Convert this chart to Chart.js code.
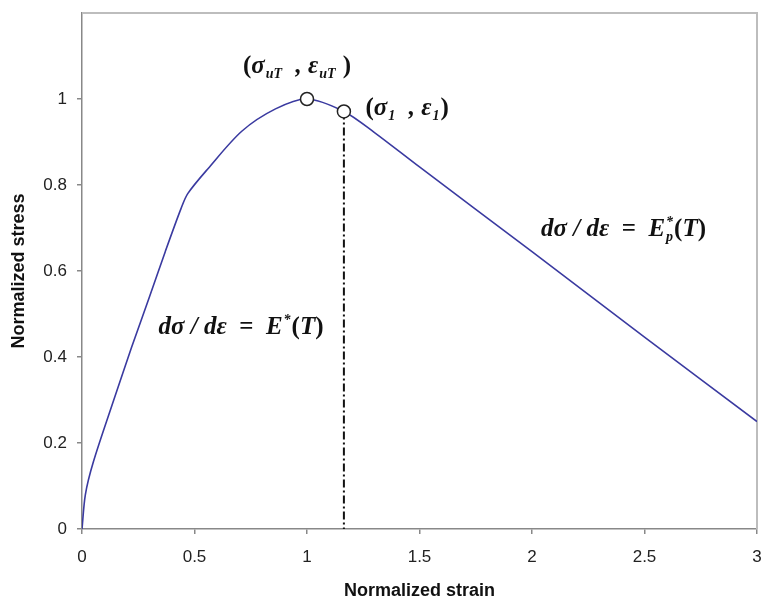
<!DOCTYPE html>
<html>
<head>
<meta charset="utf-8">
<script src="https://cdn.jsdelivr.net/npm/chart.js@4.4.1/dist/chart.umd.min.js"></script>
<style>
  html, body { margin: 0; padding: 0; background: #fff; }
  #wrap { width: 766px; height: 605px; }
</style>
</head>
<body>
<div id="wrap"><canvas id="myChart" width="766" height="605"></canvas></div>
<script>
// curve (normalized strain / normalized stress)
const strain = [0, 0.015, 0.05, 0.14, 0.22, 0.30, 0.37, 0.44, 0.47, 0.56, 0.71, 0.86, 1.0, 1.164, 1.3, 1.5, 2.0, 2.5, 3.0]
const stress = [0, 0.08, 0.155, 0.298, 0.422, 0.54, 0.645, 0.745, 0.78, 0.838, 0.925, 0.977, 1.0, 0.971, 0.922, 0.842, 0.645, 0.446, 0.25]

// the two marked points: (sigma_uT, eps_uT) and (sigma_1, eps_1)
const markStrain = [1.0, 1.164]
const markStress = [1.0, 0.971]

const xTicks = [0, 0.5, 1, 1.5, 2, 2.5, 3]
const yTicks = [0, 0.2, 0.4, 0.6, 0.8, 1]

// annotations anchored at data values (left edge / vertical middle)
const notes = [
  { x: 0.715, y: 1.077, parts: [['(', 'up'], ['σ', ''], ['uT', 'sub'], ['  , ε', ''], ['uT', 'sub'], [' )', 'up']] },
  { x: 1.26, y: 0.98, parts: [['(', 'up'], ['σ', ''], ['1', 'sub'], ['  , ε', ''], ['1', 'sub'], [')', 'up']] },
  { x: 0.34, y: 0.47, parts: [['dσ / dε  ', ''], ['=', 'up'], ['  E', ''], ['*', 'sup'], ['(', 'up'], ['T', ''], [')', 'up']] },
  { x: 2.04, y: 0.70, parts: [['dσ / dε  ', ''], ['=', 'up'], ['  E', ''], ['*|p', 'subsup'], ['(', 'up'], ['T', ''], [')', 'up']] },
]

const curvePts = strain.map((x, i) => ({ x: x, y: stress[i] }))
const markPts = markStrain.map((x, i) => ({ x: x, y: markStress[i] }))
const dropPts = [{ x: markStrain[1], y: markStress[1] }, { x: markStrain[1], y: 0 }]

const FONT_SIZE = 25
const SERIF = '"Liberation Serif", "Times New Roman", serif'
function drawMath(ctx, parts, x, y) {
  const big = 'italic bold ' + FONT_SIZE + 'px ' + SERIF
  const up = 'bold ' + FONT_SIZE + 'px ' + SERIF
  const small = 'italic bold ' + Math.round(FONT_SIZE * 0.55) + 'px ' + SERIF
  ctx.textBaseline = 'alphabetic'
  ctx.textAlign = 'left'
  let cx = x
  const base = y + FONT_SIZE * 0.3
  parts.forEach(([t, kind]) => {
    if (kind === '' || kind === 'up') {
      ctx.font = kind === 'up' ? up : big
      ctx.fillText(t, cx, base)
      cx += ctx.measureText(t).width
    } else if (kind === 'sub') {
      ctx.font = small
      ctx.fillText(t, cx + 1, base + FONT_SIZE * 0.2)
      cx += ctx.measureText(t).width + 2
    } else if (kind === 'sup') {
      ctx.font = small
      ctx.fillText(t, cx + 1, base - FONT_SIZE * 0.4)
      cx += ctx.measureText(t).width + 2
    } else {
      const [sup, sub] = t.split('|')
      ctx.font = small
      ctx.fillText(sup, cx + 1, base - FONT_SIZE * 0.4)
      ctx.fillText(sub, cx + 1, base + FONT_SIZE * 0.2)
      cx += Math.max(ctx.measureText(sup).width, ctx.measureText(sub).width) + 2
    }
  })
}

const extras = {
  id: 'extras',
  beforeDatasetsDraw(chart) {
    const { ctx, chartArea: a } = chart
    ctx.save()
    ctx.strokeStyle = '#bdbdbd'
    ctx.lineWidth = 2
    ctx.beginPath()
    ctx.moveTo(a.left, a.top)
    ctx.lineTo(a.right, a.top)
    ctx.lineTo(a.right, a.bottom)
    ctx.stroke()
    ctx.restore()
  },
  afterDatasetsDraw(chart) {
    const { ctx, scales } = chart
    ctx.save()
    ctx.fillStyle = '#111'
    notes.forEach(n => {
      drawMath(ctx, n.parts, scales.x.getPixelForValue(n.x), scales.y.getPixelForValue(n.y))
    })
    ctx.restore()
  }
}

const tickFont = { family: '"Liberation Sans", Arial, sans-serif', size: 17 }
const titleFont = { family: '"Liberation Sans", Arial, sans-serif', size: 18, weight: 'bold' }

const ctx = document.getElementById('myChart').getContext('2d')
const myChart = new Chart(ctx, {
  type: 'scatter',
  data: {
    datasets: [
      {
        label: 'marks',
        data: markPts,
        showLine: false,
        pointRadius: 6.5,
        pointBorderWidth: 1.5,
        pointBackgroundColor: '#fff',
        pointBorderColor: '#222',
        order: 0,
      },
      {
        label: 'curve',
        data: curvePts,
        showLine: true,
        borderColor: '#3a3aa0',
        borderWidth: 1.6,
        pointRadius: 0,
        tension: 0.3,
        order: 1,
      },
      {
        label: 'drop',
        data: dropPts,
        showLine: true,
        borderColor: '#111',
        borderWidth: 2,
        borderDash: [8, 3, 2, 3],
        pointRadius: 0,
        order: 2,
      },
    ],
  },
  options: {
    responsive: false,
    animation: false,
    layout: { padding: { top: 13, right: 9, left: 0, bottom: 0 } },
    plugins: { legend: { display: false }, tooltip: { enabled: false } },
    scales: {
      x: {
        type: 'linear',
        min: 0,
        max: 3,
        afterBuildTicks: (s) => { s.ticks = xTicks.map(v => ({ value: v })) },
        afterFit: (s) => { s.height = 76; s.paddingLeft = 0; s.paddingRight = 0 },
        ticks: { font: tickFont, color: '#222', padding: 13, maxRotation: 0, callback: (v) => String(v) },
        grid: { display: true, drawOnChartArea: false, tickLength: 5, color: '#888', lineWidth: 1.5 },
        border: { color: '#888', width: 1.5 },
        title: { display: true, text: 'Normalized strain', font: titleFont, color: '#111', padding: { top: 4, bottom: 3 } },
      },
      y: {
        type: 'linear',
        min: 0,
        max: 1.2,
        afterBuildTicks: (s) => { s.ticks = yTicks.map(v => ({ value: v })) },
        afterFit: (s) => { s.width = 82; s.paddingTop = 0; s.paddingBottom = 0 },
        ticks: { font: tickFont, color: '#222', padding: 10, callback: (v) => String(v) },
        grid: { display: true, drawOnChartArea: false, tickLength: 5, color: '#888', lineWidth: 1.5 },
        border: { color: '#888', width: 1.5 },
        title: { display: true, text: 'Normalized stress', font: titleFont, color: '#111', padding: { top: 8, bottom: 4 } },
      },
    },
  },
  plugins: [extras],
})
</script>
</body>
</html>
